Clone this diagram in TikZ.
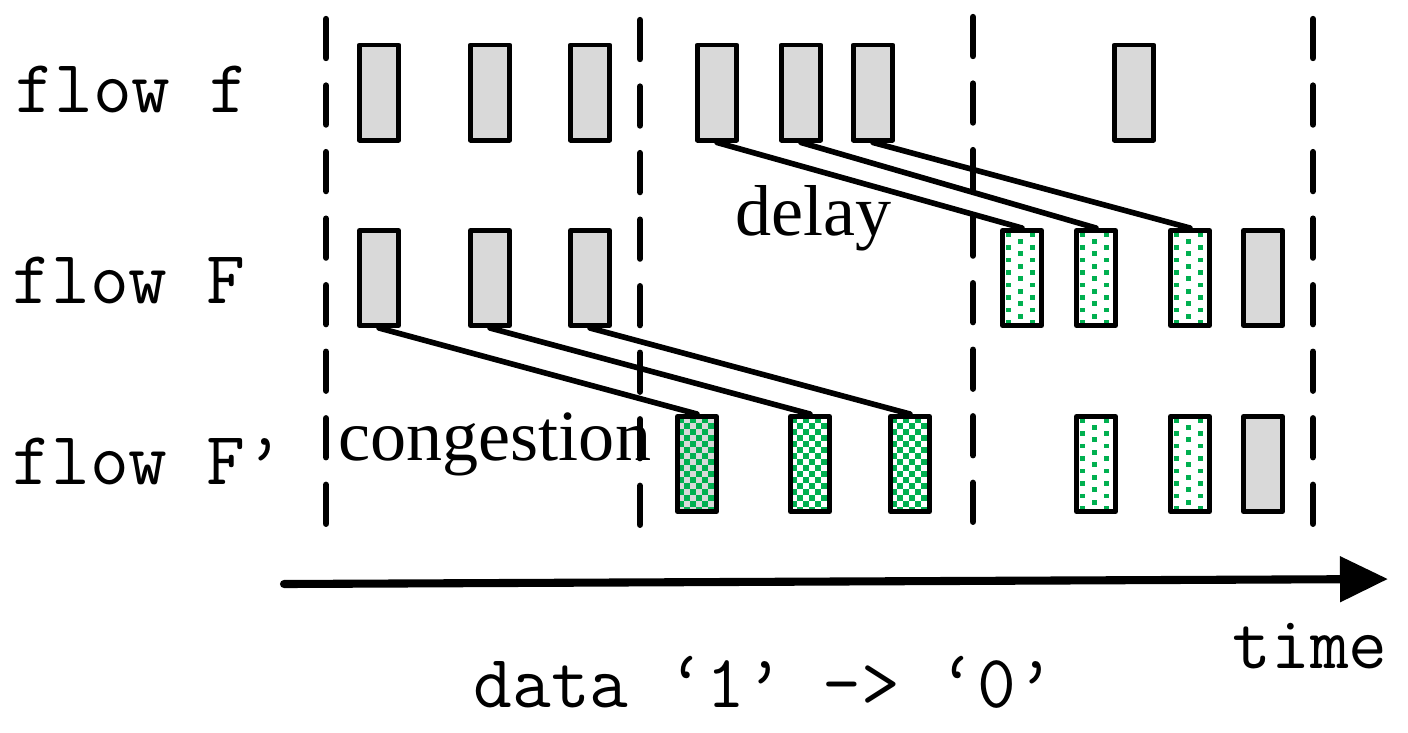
\documentclass[tikz,border=0pt]{standalone}
\usepackage{fontspec}
\newfontfamily\timesfont{Liberation Serif}
\usetikzlibrary{arrows.meta}
\definecolor{pktgray}{HTML}{D9D9D9}
\definecolor{pktgreen}{HTML}{00B050}
\begin{document}
\begin{tikzpicture}[x=0.01cm, y=-0.01cm, line join=round, line cap=round,
	font=\ttfamily\fontsize{21.4}{24}\selectfont,
	pkt/.style={draw, line width=1.4pt, fill=pktgray, minimum width=0.39cm, minimum height=0.95cm, inner sep=0pt},
	chkpkt/.style={pkt, fill=#1, path picture={
		\foreach \j in {0,...,16}\foreach \i in {0,...,3}\fill[pktgreen] ({-19.5+\i*12+mod(\j,2)*6},{-47.5+\j*6}) rectangle ++(6,6);
		}},
	dotpkt/.style={pkt, fill=white, path picture={
		\foreach \j in {0,...,15}\foreach \i in {0,1}\fill[pktgreen] ({-16.5+\i*24+mod(\j,2)*12},{-45.5+\j*6.25}) rectangle ++(5,4.8);
		}},
	link/.style={line width=1.6pt},
	lbl/.style={anchor=base west, inner sep=0pt},
	word/.style={lbl, font=\timesfont\fontsize{20.5}{24}\selectfont}]
	\useasboundingbox (0,0) rectangle (1408,732);
	\foreach \x/\t/\b in {326/19/527,640/20/527,973/17/525,1313/19/528}
		\draw[line width=1.8pt, dash pattern=on 0.39cm off 0.275cm] (\x,\t)--(\x,\b);
	\foreach \n/\x in {1/379,2/490,3/590,4/717,5/801,6/873,7/1134} \node[pkt] (a\n) at (\x,92.5) {};
	\foreach \n/\x in {1/379,2/490,3/590,7/1263} \node[pkt] (b\n) at (\x,278) {};
	\foreach \n/\x in {4/1022,5/1096,6/1190} \node[dotpkt] (b\n) at (\x,278) {};
	\node[chkpkt=pktgray] (c1) at (697,464) {};
	\foreach \n/\x in {2/810,3/910} \node[chkpkt=white] (c\n) at (\x,464) {};
	\foreach \n/\x in {4/1096,5/1190} \node[dotpkt] (c\n) at (\x,464) {};
	\node[pkt] (c6) at (1263,464) {};
	\foreach \s/\e in {a4/b4,a5/b5,a6/b6,b1/c1,b2/c2,b3/c3} \draw[link] (\s.south) -- (\e.north);
	\coordinate (t0) at (284,584);
	\coordinate (t1) at (1388,579);
	\draw[line width=2.3pt, -{Triangle[length=0.48cm, width=0.44cm]}] (t0) -- (t1);
	\node[lbl] (lf) at (15,112) {flow f};
	\node[lbl] (lF) at (12,303) {flow F};
	\node[lbl] (lG) at (12,484) {flow F’};
	\node[word] (cg) at (338,460) {congestion};
	\node[word] (dl) at (735,235) {delay};
	\node[lbl] (tm) at (1232,668) {time};
	\node[lbl] (dt) at (473,707) {data ‘1’ -> ‘0’};
\end{tikzpicture}
\end{document}
